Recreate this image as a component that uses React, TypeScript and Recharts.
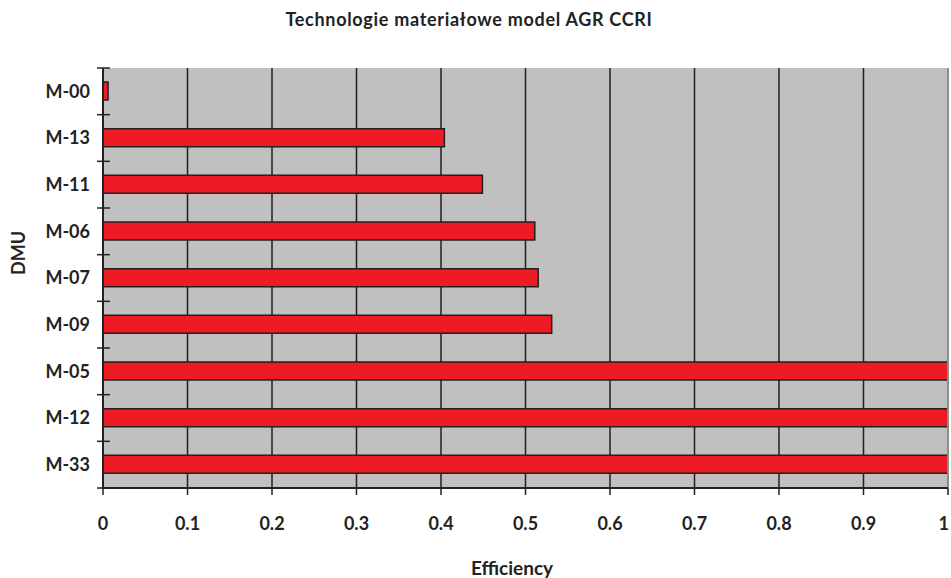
import React from 'react';
import { BarChart, Bar, XAxis, YAxis, CartesianGrid, ReferenceLine } from 'recharts';

const dmuNames = ['M-00', 'M-13', 'M-11', 'M-06', 'M-07', 'M-09', 'M-05', 'M-12', 'M-33'];
const efficiency = [0.006, 0.404, 0.449, 0.511, 0.515, 0.531, 1, 1, 1];
const xTicks = [0, 0.1, 0.2, 0.3, 0.4, 0.5, 0.6, 0.7, 0.8, 0.9, 1];

const data = dmuNames.map((name, i) => ({ name, value: efficiency[i] }));

const W = 951;
const H = 578;
const TOP = 68;
const X_AXIS_H = 90;
const PLOT_H = H - TOP - X_AXIS_H;
const FONT = 'Lato, "Open Sans", sans-serif';

// category label plus a small tick at the band edge (Excel style)
function DmuTick(props: any) {
    const { x, y, payload, index } = props;
    const band = PLOT_H / dmuNames.length;
    const axisX = x + 8;
    return (
        <g>
            <line x1={axisX - 6} x2={axisX + 7} y1={y - band / 2} y2={y - band / 2} stroke="#222" strokeWidth={1.5} />
            {index === dmuNames.length - 1 && (
                <line x1={axisX - 6} x2={axisX} y1={y + band / 2} y2={y + band / 2} stroke="#222" strokeWidth={1.5} />
            )}
            <text x={x - 5} y={y} dy="0.36em" textAnchor="end" fontFamily={FONT} fontWeight={700} fontSize={18} fill="#222">
                {payload.value}
            </text>
        </g>
    );
}

// x labels; the last one is kept inside the right edge
function EffTick(props: any) {
    const { x, y, payload } = props;
    const last = payload.value === xTicks[xTicks.length - 1];
    return (
        <text
            x={last ? x + 1 : x}
            y={y}
            dy="0.71em"
            textAnchor={last ? 'end' : 'middle'}
            fontFamily={FONT}
            fontWeight={700}
            fontSize={18}
            fill="#222"
        >
            {String(payload.value)}
        </text>
    );
}

export default function App() {
    return (
        <div style={{ position: 'absolute', left: 0, top: 0, width: W, height: H, background: '#fff' }}>
            <BarChart
                width={W}
                height={H}
                data={data}
                layout="vertical"
                margin={{ top: TOP, right: 3, bottom: 0, left: 0 }}
                barCategoryGap={0}
            >
                <CartesianGrid horizontal={false} vertical stroke="#231f20" strokeWidth={1.5} fill="#c0c0c0" />
                <XAxis
                    type="number"
                    domain={[0, 1]}
                    ticks={xTicks}
                    interval={0}
                    tick={<EffTick />}
                    tickSize={7}
                    tickMargin={22}
                    axisLine={{ stroke: '#222', strokeWidth: 2 }}
                    tickLine={{ stroke: '#222', strokeWidth: 1.5 }}
                    height={X_AXIS_H}
                />
                <YAxis
                    type="category"
                    dataKey="name"
                    width={103}
                    interval={0}
                    tick={<DmuTick />}
                    tickLine={false}
                    axisLine={{ stroke: '#222', strokeWidth: 2 }}
                />
                <ReferenceLine x={1} stroke="#8c8c8c" strokeWidth={2} />
                <Bar
                    dataKey="value"
                    barSize={18}
                    fill="#ed1c24"
                    stroke="#231f20"
                    strokeWidth={1.5}
                    isAnimationActive={false}
                />
            </BarChart>
            <svg width={W} height={H} style={{ position: 'absolute', left: 0, top: 0, pointerEvents: 'none' }}>
                <text x={469} y={26} textAnchor="middle" fontFamily={FONT} fontWeight={700} fontSize={18} letterSpacing={0.7} fill="#222">
                    Technologie materiałowe model AGR CCRI
                </text>
                <text x={512} y={575} textAnchor="middle" fontFamily={FONT} fontWeight={700} fontSize={19} fill="#222">
                    Efficiency
                </text>
                <text x={25} y={253} textAnchor="middle" transform="rotate(-90 25 253)" fontFamily={FONT} fontWeight={700} fontSize={18} fill="#222">
                    DMU
                </text>
            </svg>
        </div>
    );
}
